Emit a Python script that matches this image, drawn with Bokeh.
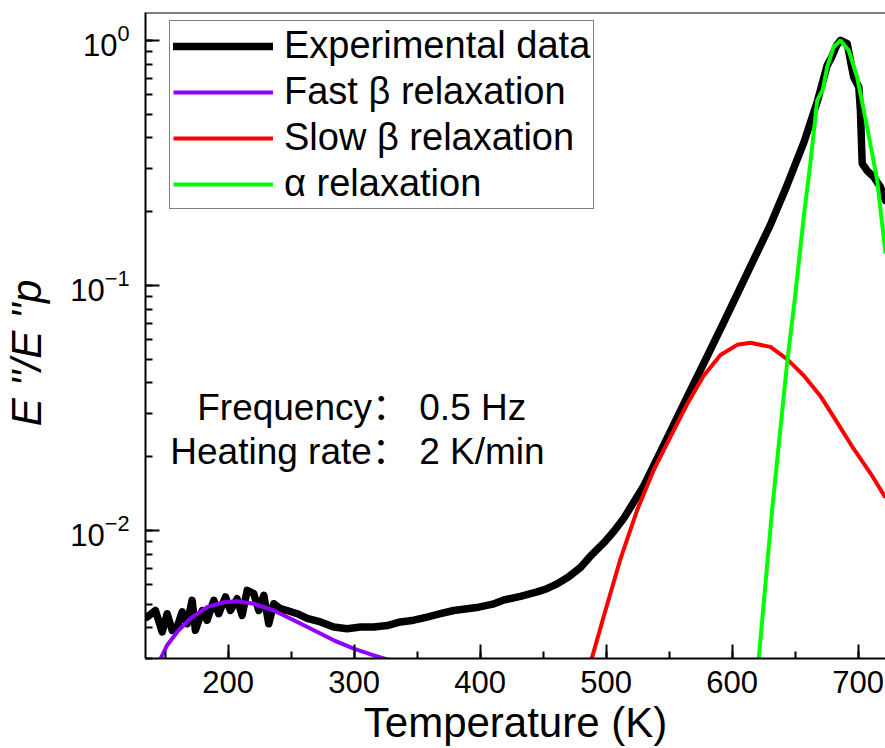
from bokeh.plotting import figure
from bokeh.models import Legend, LegendItem, Label, Span, SingleIntervalTicker
from bokeh.embed import file_html
from bokeh.resources import INLINE

# ---------------- data ----------------
exp_T = [135.7, 142.3, 147.6, 151.6, 155.6, 159.5, 163.5, 167.5, 171.4, 174.0,
         179.4, 183.3, 188.6, 192.5, 197.9, 201.8, 207.1, 211.1, 215.1, 220.3,
         224.3, 228.3, 232.2, 236.2, 241.5, 246.8, 254.8, 262.7, 273.3, 283.8,
         294.4, 305.0, 315.6, 326.2, 336.7, 347.3, 357.9, 368.5, 379.0, 389.6,
         398.9, 410.0, 418.7, 432.0, 445.2, 453.0, 461.1, 470.0, 479.6, 488.0,
         498.1, 506.0, 514.0, 529.8, 545.7, 561.6,
         577.5, 593.3, 611.9, 630.4, 642.0, 656.8, 667.5, 675.4, 679.0, 683.0,
         686.0, 691.3, 694.4, 696.5, 700.5, 701.8, 703.2, 707.1, 712.4, 717.7,
         721.7]
exp_V = [0.00443, 0.00471, 0.00385, 0.00457, 0.00391, 0.00403, 0.00465, 0.00416, 0.00518, 0.00391,
         0.00471, 0.00430, 0.00518, 0.00457, 0.00535, 0.00471, 0.00526, 0.00450, 0.00569, 0.00552,
         0.00471, 0.00543, 0.00416, 0.00502, 0.00479, 0.00471, 0.00457, 0.00437, 0.00423, 0.00403,
         0.00397, 0.00403, 0.00403, 0.00409, 0.00423, 0.00430, 0.00443, 0.00457, 0.00471, 0.00479,
         0.00486, 0.00500, 0.00520, 0.00538, 0.00561, 0.00578, 0.00605, 0.00645, 0.00706, 0.00790,
         0.00889, 0.00990, 0.0112, 0.0152, 0.0223, 0.0328,
         0.0481, 0.0706, 0.112, 0.177, 0.245, 0.382, 0.561, 0.791, 0.855, 0.955,
         1.0, 0.97, 0.80, 0.708, 0.646, 0.518, 0.314, 0.294, 0.277, 0.252,
         0.222]

fast_T = [144.0, 146.3, 151.6, 159.5, 170.1, 183.3, 196.5, 207.1, 220.3, 236.2,
          252.1, 268.0, 283.8, 299.7, 315.6, 327.5, 335.0]
fast_V = [0.0028, 0.00299, 0.0034, 0.00385, 0.00437, 0.00486, 0.00509, 0.00514, 0.00502, 0.00471,
          0.00430, 0.00391, 0.00356, 0.00329, 0.00309, 0.00296, 0.0029]

slow_T = [485.0, 488.9, 498.1, 511.3, 524.6, 537.8, 551.0, 564.3, 577.5, 590.7,
          604.0, 614.5, 630.4, 643.6, 656.8, 670.0, 683.3, 696.5, 709.8, 721.7]
slow_V = [0.0027, 0.00304, 0.00446, 0.00763, 0.0121, 0.0177, 0.0241, 0.0328, 0.0429, 0.0520,
          0.0572, 0.0583, 0.0561, 0.0500, 0.0429, 0.0354, 0.0276, 0.0215, 0.0171, 0.0136]

alpha_T = [620.0, 621.1, 631.7, 643.6, 650.2, 656.8, 662.1, 667.5, 672.0, 675.4,
           680.6, 686.0, 692.5, 699.2, 707.1, 715.1, 721.7]
alpha_V = [0.0028, 0.0030, 0.0121, 0.0481, 0.0925, 0.19, 0.316, 0.569, 0.63, 0.778,
           0.94, 1.0, 0.91, 0.708, 0.443, 0.269, 0.135]

legend_labels = ["Experimental data", "Fast \u03b2 relaxation", "Slow \u03b2 relaxation", "\u03b1 relaxation"]
note_lines = ["Frequency\uff1a 0.5 Hz", "Heating rate\uff1a 2 K/min"]
x_title = "Temperature (K)"
y_title = "E ''/E ''p\u00a0\u00a0\u00a0"

FONT = "Liberation Sans"

p = figure(width=885, height=748, x_range=(134.4, 721.7), y_range=(0.003, 1.3),
           y_axis_type="log", output_backend="svg", toolbar_location=None,
           min_border_left=145, min_border_right=0, min_border_top=12, min_border_bottom=90)
p.background_fill_color = "white"
p.border_fill_color = "white"
p.outline_line_color = None
p.xgrid.visible = False
p.ygrid.visible = False

r_exp = p.line(exp_T, exp_V, line_color="black", line_width=7.5, line_join="round", line_cap="round")
r_fast = p.line(fast_T, fast_V, line_color="#8F00FF", line_width=4)
r_slow = p.line(slow_T, slow_V, line_color="#FF0000", line_width=4)
r_alpha = p.line(alpha_T, alpha_V, line_color="#00FF00", line_width=4)

# axes
xa = p.xaxis[0]
xa.ticker = SingleIntervalTicker(interval=100, num_minor_ticks=2)
ya = p.yaxis[0]
for ax in (xa, ya):
    ax.axis_line_width = 2
    ax.axis_line_color = "black"
    ax.major_tick_line_width = 2
    ax.minor_tick_line_width = 2
    ax.major_tick_line_color = "black"
    ax.minor_tick_line_color = "black"
    ax.major_tick_in = 14
    ax.major_tick_out = 0
    ax.minor_tick_in = 7
    ax.minor_tick_out = 0
    ax.major_label_text_font = FONT
    ax.major_label_text_font_size = "31px"
    ax.major_label_text_color = "black"
    ax.axis_label_text_font = FONT
    ax.axis_label_text_font_size = "42px"
    ax.axis_label_text_color = "black"

xa.axis_label = x_title
xa.axis_label_text_font_style = "normal"
xa.major_label_standoff = 12
xa.axis_label_standoff = 3
ya.axis_label = y_title
ya.axis_label_text_font_style = "italic"
ya.major_label_standoff = 16
ya.axis_label_standoff = 17

p.add_layout(Span(location=1.3, dimension="width", line_color="black", line_width=2))

legend = Legend(items=[LegendItem(label=legend_labels[0], renderers=[r_exp]),
                       LegendItem(label=legend_labels[1], renderers=[r_fast]),
                       LegendItem(label=legend_labels[2], renderers=[r_slow]),
                       LegendItem(label=legend_labels[3], renderers=[r_alpha])],
                location=(24, 449), label_text_font=FONT, label_text_font_size="38px",
                label_text_color="black",
                glyph_width=100, glyph_height=40, label_height=40, padding=3, spacing=3,
                label_standoff=11, border_line_color="black", border_line_width=1.5,
                background_fill_color="white", background_fill_alpha=1.0, margin=0)
p.add_layout(legend)

NOTE_FONT = "Liberation Sans, Noto Sans CJK SC"
p.add_layout(Label(x=306.0, y=0.03187, text=note_lines[0], text_align="center",
                   text_baseline="alphabetic", text_font=NOTE_FONT, text_font_size="37px",
                   text_color="black"))
p.add_layout(Label(x=302.6, y=0.02108, text=note_lines[1], text_align="center",
                   text_baseline="alphabetic", text_font=NOTE_FONT, text_font_size="37px",
                   text_color="black"))

open("out.html", "w").write(file_html(p, INLINE))
